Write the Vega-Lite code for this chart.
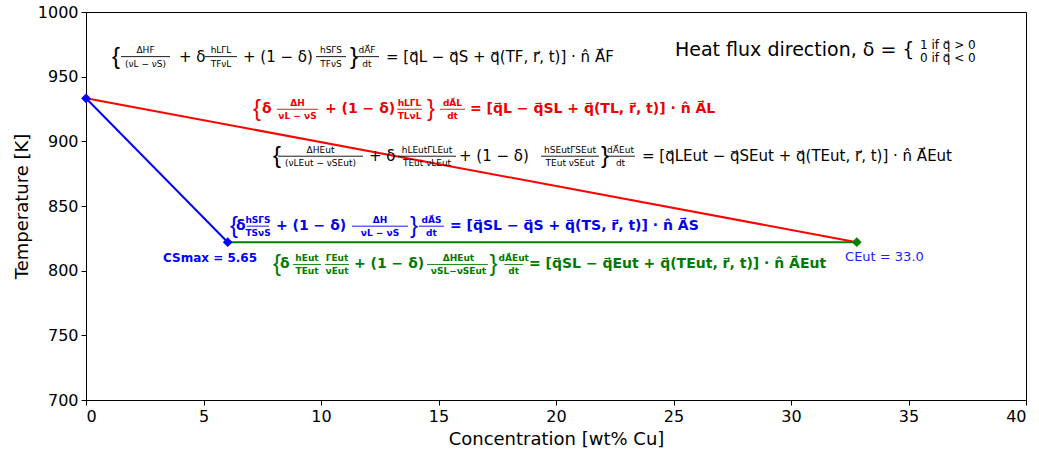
{
  "$schema": "https://vega.github.io/schema/vega-lite/v6.json",
  "width": 940,
  "height": 388,
  "autosize": {"type": "none"},
  "padding": {"left": 86, "top": 12, "right": 13, "bottom": 57},
  "background": "white",
  "config": {
    "view": {"stroke": "#000000", "strokeWidth": 1},
    "font": "DejaVu Sans",
    "axis": {
      "grid": false,
      "domainColor": "#000000",
      "tickColor": "#000000",
      "labelColor": "#000000",
      "titleColor": "#000000",
      "labelFont": "DejaVu Sans",
      "titleFont": "DejaVu Sans",
      "labelFontSize": 16,
      "titleFontSize": 18,
      "titleFontWeight": "normal",
      "tickSize": 5
    }
  },
  "datasets": {
    "lines": [
      {"eq": "liquidus", "x": 0, "y": 933.3, "o": 0},
      {"eq": "liquidus", "x": 32.8, "y": 822, "o": 1},
      {"eq": "solidus", "x": 0, "y": 933.3, "o": 0},
      {"eq": "solidus", "x": 6.03, "y": 822, "o": 1},
      {"eq": "eutectic", "x": 6.03, "y": 822, "o": 0},
      {"eq": "eutectic", "x": 32.8, "y": 822, "o": 1}
    ],
    "points": [
      {"eq": "solidus", "x": 0, "y": 933.3},
      {"eq": "solidus", "x": 6.03, "y": 822},
      {"eq": "eutectic", "x": 32.8, "y": 822}
    ],
    "main": [
      {"eq": "F", "x": 3.957, "y": 965.5, "t": "+ δ"},
      {"eq": "F", "x": 6.681, "y": 965.5, "t": "+ (1 − δ)"},
      {"eq": "F", "x": 12.766, "y": 965.5, "t": "= [q⃗L − q⃗S + q⃗(TF, r⃗, t)] · n̂ A⃗F"},
      {"eq": "L", "x": 7.489, "y": 924.8, "t": "δ"},
      {"eq": "L", "x": 10.17, "y": 924.8, "t": "+ (1 − δ)"},
      {"eq": "L", "x": 16.34, "y": 924.8, "t": "= [q⃗L − q⃗SL + q⃗(TL, r⃗, t)] · n̂ A⃗L"},
      {"eq": "Eut", "x": 12.043, "y": 888.5, "t": "+ δ"},
      {"eq": "Eut", "x": 15.872, "y": 888.5, "t": "+ (1 − δ)"},
      {"eq": "Eut", "x": 23.66, "y": 888.5, "t": "= [q⃗LEut − q⃗SEut + q⃗(TEut, r⃗, t)] · n̂ A⃗Eut"},
      {"eq": "S", "x": 6.383, "y": 834.4, "t": "δ"},
      {"eq": "S", "x": 8.085, "y": 834.4, "t": "+ (1 − δ)"},
      {"eq": "S", "x": 15.489, "y": 834.4, "t": "= [q⃗SL − q⃗S + q⃗(TS, r⃗, t)] · n̂ A⃗S"},
      {"eq": "SEut", "x": 8.255, "y": 804.8, "t": "δ"},
      {"eq": "SEut", "x": 11.404, "y": 804.8, "t": "+ (1 − δ)"},
      {"eq": "SEut", "x": 18.85, "y": 804.8, "t": "= [q⃗SL − q⃗Eut + q⃗(TEut, r⃗, t)] · n̂ A⃗Eut"}
    ],
    "braces": [
      {"eq": "F", "x": 1.106, "y": 965.5, "t": "{"},
      {"eq": "F", "x": 11.234, "y": 965.5, "t": "}"},
      {"eq": "L", "x": 7.106, "y": 924.8, "t": "{"},
      {"eq": "L", "x": 14.511, "y": 924.8, "t": "}"},
      {"eq": "Eut", "x": 7.957, "y": 888.5, "t": "{"},
      {"eq": "Eut", "x": 21.915, "y": 888.5, "t": "}"},
      {"eq": "S", "x": 6.128, "y": 834.4, "t": "{"},
      {"eq": "S", "x": 13.787, "y": 834.4, "t": "}"},
      {"eq": "SEut", "x": 7.957, "y": 804.8, "t": "{"},
      {"eq": "SEut", "x": 17.17, "y": 804.8, "t": "}"}
    ],
    "frac": [
      {"eq": "F", "x": 2.532, "xa": 1.489, "xb": 3.574, "y": 965.5, "num": "ΔHF", "den": "(νL − νS)"},
      {"eq": "F", "x": 5.745, "xa": 5.064, "xb": 6.426, "y": 965.5, "num": "hLΓL", "den": "TFνL"},
      {"eq": "F", "x": 10.426, "xa": 9.787, "xb": 11.064, "y": 965.5, "num": "hSΓS", "den": "TFνS"},
      {"eq": "F", "x": 11.957, "xa": 11.447, "xb": 12.468, "y": 965.5, "num": "dA⃗F", "den": "dt"},
      {"eq": "L", "x": 9.0, "xa": 8.128, "xb": 9.872, "y": 924.8, "num": "ΔH", "den": "νL − νS"},
      {"eq": "L", "x": 13.766, "xa": 13.234, "xb": 14.298, "y": 924.8, "num": "hLΓL", "den": "TLνL"},
      {"eq": "L", "x": 15.596, "xa": 15.064, "xb": 16.128, "y": 924.8, "num": "dA⃗L", "den": "dt"},
      {"eq": "Eut", "x": 9.979, "xa": 8.17, "xb": 11.787, "y": 888.5, "num": "ΔHEut", "den": "(νLEut − νSEut)"},
      {"eq": "Eut", "x": 14.511, "xa": 13.277, "xb": 15.745, "y": 888.5, "num": "hLEutΓLEut", "den": "TEut νLEut"},
      {"eq": "Eut", "x": 20.596, "xa": 19.362, "xb": 21.83, "y": 888.5, "num": "hSEutΓSEut", "den": "TEut νSEut"},
      {"eq": "Eut", "x": 22.745, "xa": 22.128, "xb": 23.362, "y": 888.5, "num": "dA⃗Eut", "den": "dt"},
      {"eq": "S", "x": 7.319, "xa": 6.851, "xb": 7.787, "y": 834.4, "num": "hSΓS", "den": "TSνS"},
      {"eq": "S", "x": 12.511, "xa": 11.319, "xb": 13.702, "y": 834.4, "num": "ΔH", "den": "νL − νS"},
      {"eq": "S", "x": 14.702, "xa": 14.17, "xb": 15.234, "y": 834.4, "num": "dA⃗S", "den": "dt"},
      {"eq": "SEut", "x": 9.404, "xa": 8.809, "xb": 10.0, "y": 804.8, "num": "hEut", "den": "TEut"},
      {"eq": "SEut", "x": 10.681, "xa": 10.17, "xb": 11.191, "y": 804.8, "num": "ΓEut", "den": "νEut"},
      {"eq": "SEut", "x": 15.85, "xa": 14.511, "xb": 17.1, "y": 804.8, "num": "ΔHEut", "den": "νSL−νSEut"},
      {"eq": "SEut", "x": 18.2, "xa": 17.8, "xb": 18.6, "y": 804.8, "num": "dA⃗Eut", "den": "dt"}
    ],
    "heat": [
      {"eq": "heat", "x": 25.064, "y": 970.4, "t": "Heat flux direction,  δ = {"}
    ],
    "cond": [
      {"eq": "heat", "x": 35.489, "y": 974.6, "t": "1 if q⃗ > 0"},
      {"eq": "heat", "x": 35.489, "y": 964.2, "t": "0 if q⃗ < 0"}
    ],
    "smax": [
      {"eq": "Smax", "x": 3.277, "y": 809.7, "t": "CSmax = 5.65"}
    ],
    "ceut": [
      {"eq": "CEut", "x": 32.3, "y": 810.9, "t": "CEut =  33.0"}
    ]
  },
  "encoding": {
    "x": {
      "field": "x", "type": "quantitative",
      "scale": {"domain": [0, 40], "nice": false, "zero": false},
      "axis": {"values": [0, 5, 10, 15, 20, 25, 30, 35, 40], "title": "Concentration [wt% Cu]", "labelPadding": 3, "titlePadding": 6}
    },
    "y": {
      "field": "y", "type": "quantitative",
      "scale": {"domain": [700, 1000], "nice": false, "zero": false},
      "axis": {"values": [700, 750, 800, 850, 900, 950, 1000], "format": "d", "title": "Temperature [K]", "labelPadding": 3, "titlePadding": 6}
    },
    "color": {
      "field": "eq", "type": "nominal", "legend": null,
      "scale": {
        "domain": ["F", "L", "Eut", "S", "SEut", "liquidus", "solidus", "eutectic", "heat", "Smax", "CEut"],
        "range": ["#000000", "#ee0000", "#000000", "#0000ee", "#007a00", "#ff0000", "#0000ff", "#008000", "#000000", "#0000ff", "#2020ff"]
      }
    }
  },
  "layer": [
    {
      "data": {"name": "lines"},
      "mark": {"type": "line", "strokeWidth": 2},
      "encoding": {"order": {"field": "o", "type": "quantitative"}, "detail": {"field": "eq"}}
    },
    {
      "data": {"name": "points"},
      "mark": {"type": "point", "shape": "diamond", "filled": true, "size": 95, "opacity": 1}
    },
    {
      "data": {"name": "frac"},
      "mark": {"type": "rule", "strokeWidth": 0.9},
      "encoding": {"x": {"field": "xa", "type": "quantitative"}, "x2": {"field": "xb"}}
    },
    {
      "data": {"name": "main"},
      "transform": [{"filter": {"field": "eq", "oneOf": ["F", "Eut"]}}],
      "mark": {"type": "text", "align": "left", "baseline": "middle", "fontSize": 15, "font": "DejaVu Sans"},
      "encoding": {"text": {"field": "t"}}
    },
    {
      "data": {"name": "main"},
      "transform": [{"filter": {"field": "eq", "oneOf": ["L", "S", "SEut"]}}],
      "mark": {"type": "text", "align": "left", "baseline": "middle", "fontSize": 14, "fontWeight": "bold", "font": "DejaVu Sans"},
      "encoding": {"text": {"field": "t"}}
    },
    {
      "data": {"name": "braces"},
      "transform": [{"filter": {"field": "eq", "oneOf": ["F", "Eut"]}}],
      "mark": {"type": "text", "align": "left", "baseline": "middle", "fontSize": 24, "font": "Liberation Sans"},
      "encoding": {"text": {"field": "t"}}
    },
    {
      "data": {"name": "braces"},
      "transform": [{"filter": {"field": "eq", "oneOf": ["L", "S", "SEut"]}}],
      "mark": {"type": "text", "align": "left", "baseline": "middle", "fontSize": 24, "font": "Liberation Sans"},
      "encoding": {"text": {"field": "t"}}
    },
    {
      "data": {"name": "frac"},
      "transform": [{"filter": {"field": "eq", "oneOf": ["F", "Eut"]}}],
      "mark": {"type": "text", "align": "center", "baseline": "middle", "fontSize": 9, "dy": -6.5, "font": "DejaVu Sans"},
      "encoding": {"x": {"field": "x", "type": "quantitative"}, "text": {"field": "num"}}
    },
    {
      "data": {"name": "frac"},
      "transform": [{"filter": {"field": "eq", "oneOf": ["F", "Eut"]}}],
      "mark": {"type": "text", "align": "center", "baseline": "middle", "fontSize": 9, "dy": 7, "font": "DejaVu Sans"},
      "encoding": {"x": {"field": "x", "type": "quantitative"}, "text": {"field": "den"}}
    },
    {
      "data": {"name": "frac"},
      "transform": [{"filter": {"field": "eq", "oneOf": ["L", "S", "SEut"]}}],
      "mark": {"type": "text", "align": "center", "baseline": "middle", "fontSize": 9, "fontWeight": "bold", "dy": -6.5, "font": "DejaVu Sans"},
      "encoding": {"x": {"field": "x", "type": "quantitative"}, "text": {"field": "num"}}
    },
    {
      "data": {"name": "frac"},
      "transform": [{"filter": {"field": "eq", "oneOf": ["L", "S", "SEut"]}}],
      "mark": {"type": "text", "align": "center", "baseline": "middle", "fontSize": 9, "fontWeight": "bold", "dy": 7, "font": "DejaVu Sans"},
      "encoding": {"x": {"field": "x", "type": "quantitative"}, "text": {"field": "den"}}
    },
    {
      "data": {"name": "heat"},
      "mark": {"type": "text", "align": "left", "baseline": "middle", "fontSize": 19, "font": "DejaVu Sans"},
      "encoding": {"text": {"field": "t"}}
    },
    {
      "data": {"name": "cond"},
      "mark": {"type": "text", "align": "left", "baseline": "middle", "fontSize": 12, "font": "DejaVu Sans"},
      "encoding": {"text": {"field": "t"}}
    },
    {
      "data": {"name": "smax"},
      "mark": {"type": "text", "align": "left", "baseline": "middle", "fontSize": 12, "fontWeight": "bold", "font": "DejaVu Sans"},
      "encoding": {"text": {"field": "t"}}
    },
    {
      "data": {"name": "ceut"},
      "mark": {"type": "text", "align": "left", "baseline": "middle", "fontSize": 13, "font": "DejaVu Sans"},
      "encoding": {"text": {"field": "t"}}
    }
  ]
}
